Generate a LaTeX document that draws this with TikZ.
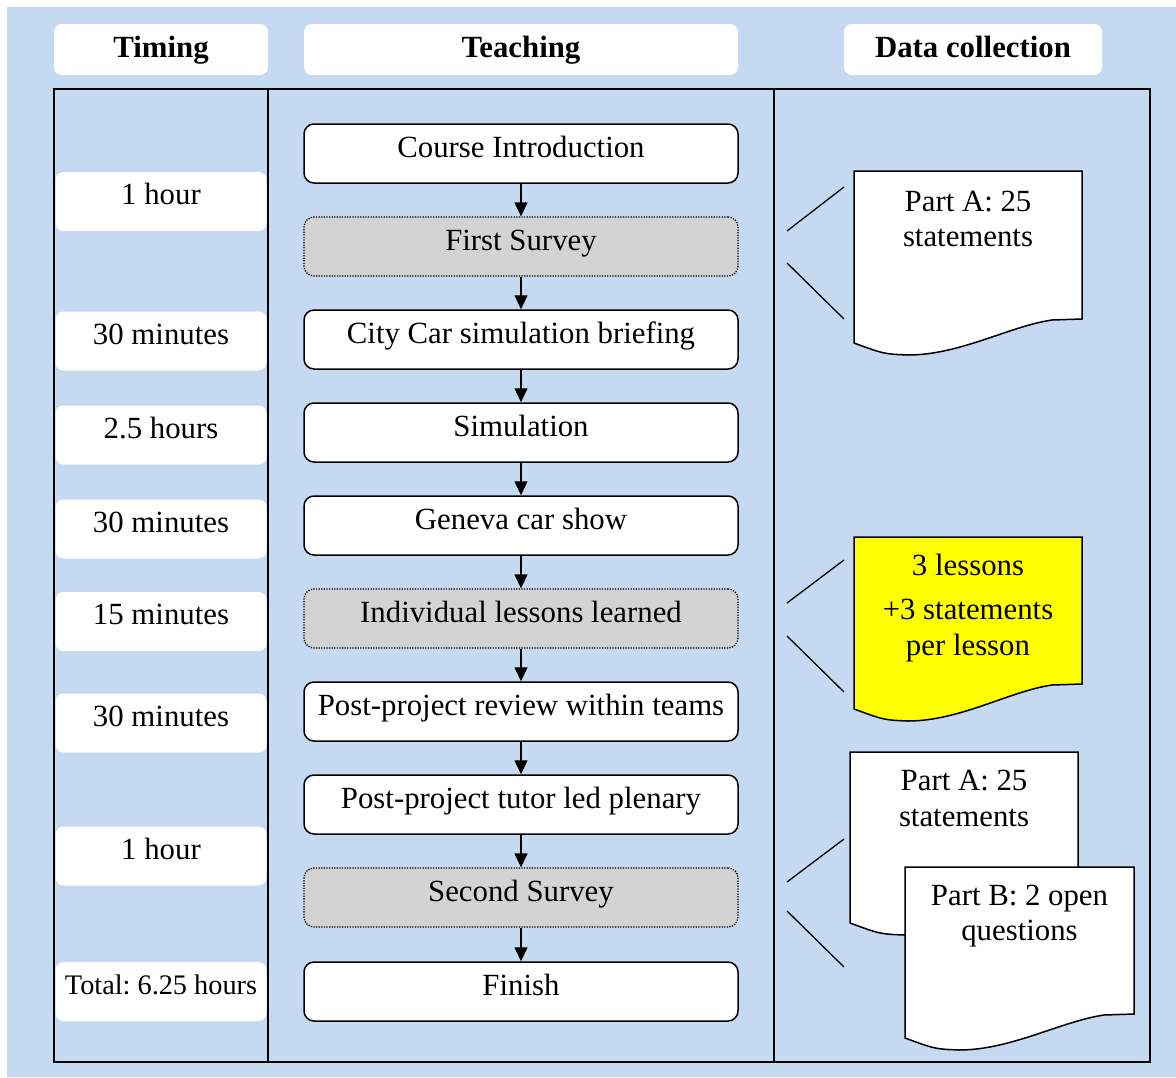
\documentclass[tikz,border=0pt]{standalone}
\usepackage{fontspec}
\setmainfont{Liberation Serif}
\usetikzlibrary{arrows.meta}
\definecolor{bgblue}{RGB}{197,217,241}
\definecolor{surveygray}{RGB}{211,211,211}
\definecolor{docyellow}{RGB}{255,255,0}
\frenchspacing
\newcommand{\docshape}[6]{%
  \path[doc, fill=#6] (#1,#2) -- (#3,#2) -- (#3,#4) -- ({#3-30},{#4+1})
    .. controls ({#3-72},{#4+7}) and ({#1+106},{#5+12}) .. ({#1+54},{#5+12})
    .. controls ({#1+30},{#5+11}) .. (#1,#5) -- cycle;}
\begin{document}
\begin{tikzpicture}[x=1pt,y=-1pt,
  txt/.style={font=\fontsize{30.8pt}{35pt}\selectfont},
  headbox/.style={font=\fontsize{30.8pt}{35pt}\selectfont\bfseries, fill=white,
    rounded corners=8pt, minimum height=51pt, inner sep=2pt,
    text height=22pt, text depth=7pt},
  stepbox/.style={txt, draw, line width=1.5pt, fill=white, rounded corners=10pt,
    minimum width=434pt, minimum height=59pt, inner sep=2pt,
    text height=22pt, text depth=15pt},
  surveybox/.style={stepbox, fill=surveygray, line width=1.3pt,
    dash pattern=on 1.3pt off 1.3pt},
  timebox/.style={txt, fill=white, rounded corners=8pt, minimum width=211pt,
    minimum height=59pt, inner sep=2pt, text height=22pt, text depth=16pt},
  flow/.style={-{Triangle[length=14pt,width=13pt]}, line width=1.3pt},
  framed/.style={line width=1.5pt},
  doc/.style={draw, line width=1.5pt},
  doctext/.style={txt, anchor=base, inner sep=0pt},
  tick/.style={line width=1.3pt}]

\useasboundingbox (0,0) rectangle (1176,1077);
\fill[white] (0,0) rectangle (1176,1077);
\fill[bgblue] (7,7) rectangle (1176,1077);

% headers
\node[headbox, minimum width=214pt] (hTiming) at (161,49.5) {Timing};
\node[headbox, minimum width=434pt] (hTeaching) at (521,49.5) {Teaching};
\node[headbox, minimum width=258pt] (hData) at (973,49.5) {Data collection};

% timing boxes
\node[timebox] (t1) at (161,201.5) {1 hour};
\node[timebox] (t2) at (161,341) {30 minutes};
\node[timebox] (t3) at (161,435) {2.5 hours};
\node[timebox] (t4) at (161,529) {30 minutes};
\node[timebox] (t5) at (161,621.5) {15 minutes};
\node[timebox] (t6) at (161,723) {30 minutes};
\node[timebox] (t7) at (161,856) {1 hour};
\node[timebox, font=\fontsize{28.3pt}{33pt}\selectfont] (t8) at (161,991.5) {Total: 6.25 hours};

% frame
\draw[framed] (54,89) rectangle (1150,1062);
\draw[framed] (268,89) -- (268,1062);
\draw[framed] (774,89) -- (774,1062);

% teaching steps
\node[stepbox] (c1) at (521,153.5) {Course Introduction};
\node[surveybox] (c2) at (521,246.5) {First Survey};
\node[stepbox] (c3) at (521,339.5) {City Car simulation briefing};
\node[stepbox] (c4) at (521,432.5) {Simulation};
\node[stepbox] (c5) at (521,525.5) {Geneva car show};
\node[surveybox] (c6) at (521,618.5) {Individual lessons learned};
\node[stepbox] (c7) at (521,711.5) {Post-project review within teams};
\node[stepbox] (c8) at (521,804.5) {Post-project tutor led plenary};
\node[surveybox] (c9) at (521,897.5) {Second Survey};
\node[stepbox] (c10) at (521,991.5) {Finish};

\foreach \a/\b in {c1/c2,c2/c3,c3/c4,c4/c5,c5/c6,c6/c7,c7/c8,c8/c9,c9/c10}
  \draw[flow] (\a.south) -- (\b.north);

% data collection documents
\docshape{854}{171}{1082}{319}{343}{white}
\node[doctext] (d1a) at (968,211) {Part A: 25};
\node[doctext] (d1b) at (968,246.5) {statements};
\draw[tick] (787,231) -- (844,187);
\draw[tick] (787,263) -- (844,319);

\docshape{854}{537}{1082}{684}{709}{docyellow}
\node[doctext] (d2a) at (968,575) {3 lessons};
\node[doctext] (d2b) at (968,619) {+3 statements};
\node[doctext] (d2c) at (968,655) {per lesson};
\draw[tick] (787,603) -- (844,560);
\draw[tick] (787,636) -- (844,692);

\docshape{850}{752}{1078}{899}{923}{white}
\node[doctext] (d3a) at (964,790) {Part A: 25};
\node[doctext] (d3b) at (964,826.5) {statements};
\docshape{905}{867}{1134}{1014}{1038}{white}
\node[doctext] (d4a) at (1019.5,905) {Part B: 2 open};
\node[doctext] (d4b) at (1019.5,940.5) {questions};
\draw[tick] (787,882) -- (844,839);
\draw[tick] (787,911) -- (844,967);
\end{tikzpicture}
\end{document}
